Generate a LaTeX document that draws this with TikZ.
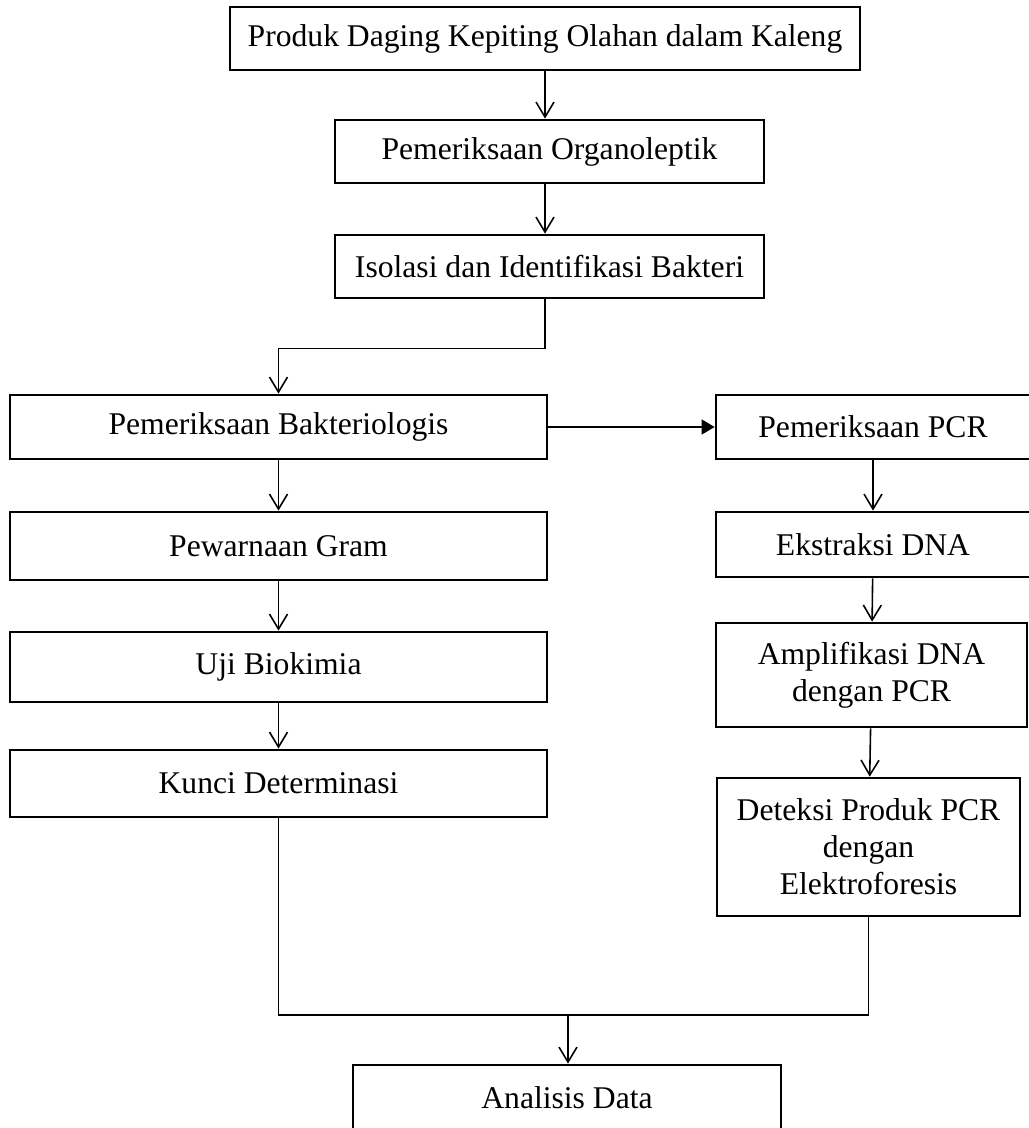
\documentclass[tikz,border=0pt]{standalone}
\usepackage{fontspec}
\setmainfont{Liberation Serif}
\usepackage{tikz}
\usetikzlibrary{arrows.meta,positioning}

\begin{document}
\begin{tikzpicture}[
    x=0.02cm, y=-0.02cm,
    box/.style={draw, line width=1.6pt, inner sep=0pt, align=center, font=\fontsize{18pt}{21pt}\selectfont},
    arrow/.style={-{Straight Barb[length=0.3cm, width=0.36cm]}, line width=0.9pt},
    tri/.style={-{Triangle[length=0.26cm, width=0.3cm]}, line width=0.9pt},
    link/.style={line width=0.9pt}
]
\useasboundingbox (0,0) rectangle (1028,1128);

% Top chain
\node[box, minimum width=12.6cm, minimum height=1.26cm] (produk) at (545,38.5) {Produk Daging Kepiting Olahan dalam Kaleng};
\node[box, minimum width=8.58cm, minimum height=1.26cm] (organo) at (549.5,151.5) {Pemeriksaan Organoleptik};
\node[box, minimum width=8.58cm, minimum height=1.26cm] (isolasi) at (549.5,266.5) {Isolasi dan Identifikasi Bakteri};

% Left column
\node[box, minimum width=10.74cm, minimum height=1.28cm] (bakterio) at (278.5,427) {Pemeriksaan Bakteriologis};
\node[box, minimum width=10.74cm, minimum height=1.36cm] (gram) at (278.5,546) {Pewarnaan Gram};
\node[box, minimum width=10.74cm, minimum height=1.4cm] (biokimia) at (278.5,667) {Uji Biokimia};
\node[box, minimum width=10.74cm, minimum height=1.34cm] (kunci) at (278.5,783.5) {Kunci Determinasi};

% Right column
\node[box, minimum width=6.28cm, minimum height=1.28cm] (pcr) at (873,427) {Pemeriksaan PCR};
\node[box, minimum width=6.28cm, minimum height=1.3cm] (ekstraksi) at (873,544.5) {Ekstraksi DNA};
\node[box, minimum width=6.22cm, minimum height=2.08cm] (amplifikasi) at (871.5,675) {Amplifikasi DNA\\dengan PCR};
\node[box, minimum width=6.06cm, minimum height=2.76cm] (deteksi) at (868.5,847) {Deteksi Produk PCR\\dengan\\Elektroforesis};

% Result
\node[box, minimum width=8.56cm, minimum height=1.32cm] (analisis) at (567,1098) {Analisis Data};
\coordinate (merge) at (568,1015);

% Arrows
\draw[arrow] (produk) -- (produk |- organo.north);
\draw[arrow] (organo.south -| produk) -- (isolasi.north -| produk);
\draw[arrow] (isolasi.south -| produk) -- ++(0,49) -| (bakterio.north);
\draw[tri] (bakterio) -- (pcr);
\draw[arrow] (bakterio) -- (gram);
\draw[arrow] (gram) -- (biokimia);
\draw[arrow] (biokimia) -- (kunci);
\draw[arrow] (pcr) -- (ekstraksi);
\draw[arrow] (ekstraksi) -- (amplifikasi);
\draw[arrow] (amplifikasi) -- (deteksi);
\draw[link] (kunci.south) |- (merge) -| (deteksi.south);
\draw[arrow] (merge) -- (merge |- analisis.north);

\end{tikzpicture}
\end{document}
